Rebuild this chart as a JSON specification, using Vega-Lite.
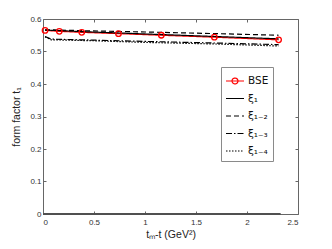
{
  "$schema": "https://vega.github.io/schema/vega-lite/v6.json",
  "width": 255,
  "height": 195,
  "autosize": {"type": "none"},
  "padding": {"left": 43, "top": 19, "right": 34, "bottom": 35},
  "background": "white",
  "config": {
    "font": "Liberation Sans",
    "view": {"stroke": null},
    "axis": {
      "grid": false,
      "domainColor": "#666666",
      "domainWidth": 1,
      "tickColor": "#666666",
      "tickSize": -3,
      "labelColor": "#333333",
      "labelFontSize": 8,
      "labelFont": "Liberation Sans",
      "titleFont": "Liberation Sans",
      "titleFontWeight": "normal",
      "titleColor": "#222222",
      "titleFontSize": 10.5
    },
    "legend": {
      "orient": "none",
      "legendX": 178,
      "legendY": 48,
      "strokeColor": "#8a8a8a",
      "fillColor": "white",
      "padding": 4,
      "symbolSize": 324,
      "symbolStrokeWidth": 1.2,
      "labelFontSize": 10.5,
      "labelFont": "DejaVu Sans",
      "labelColor": "#111111",
      "labelOffset": 3,
      "rowPadding": 1.5,
      "title": null
    }
  },
  "datasets": {
    "curves": [
      {"series": "BSE", "x": 0.02, "y": 0.565},
      {"series": "BSE", "x": 0.16, "y": 0.562},
      {"series": "BSE", "x": 0.38, "y": 0.559},
      {"series": "BSE", "x": 0.74, "y": 0.555},
      {"series": "BSE", "x": 1.16, "y": 0.550},
      {"series": "BSE", "x": 1.68, "y": 0.544},
      {"series": "BSE", "x": 2.31, "y": 0.536},
      {"series": "ξ₁", "x": 0.02, "y": 0.566},
      {"series": "ξ₁", "x": 0.4, "y": 0.561},
      {"series": "ξ₁", "x": 1.0, "y": 0.554},
      {"series": "ξ₁", "x": 1.7, "y": 0.546},
      {"series": "ξ₁", "x": 2.31, "y": 0.539},
      {"series": "ξ₁₋₂", "x": 0.02, "y": 0.567},
      {"series": "ξ₁₋₂", "x": 0.4, "y": 0.564},
      {"series": "ξ₁₋₂", "x": 1.0, "y": 0.560},
      {"series": "ξ₁₋₂", "x": 1.7, "y": 0.555},
      {"series": "ξ₁₋₂", "x": 2.31, "y": 0.550},
      {"series": "ξ₁₋₃", "x": 0.02, "y": 0.546},
      {"series": "ξ₁₋₃", "x": 0.08, "y": 0.538},
      {"series": "ξ₁₋₃", "x": 0.5, "y": 0.535},
      {"series": "ξ₁₋₃", "x": 1.0, "y": 0.531},
      {"series": "ξ₁₋₃", "x": 1.7, "y": 0.526},
      {"series": "ξ₁₋₃", "x": 2.31, "y": 0.521},
      {"series": "ξ₁₋₄", "x": 0.02, "y": 0.545},
      {"series": "ξ₁₋₄", "x": 0.08, "y": 0.536},
      {"series": "ξ₁₋₄", "x": 0.5, "y": 0.533},
      {"series": "ξ₁₋₄", "x": 1.0, "y": 0.528},
      {"series": "ξ₁₋₄", "x": 1.7, "y": 0.523},
      {"series": "ξ₁₋₄", "x": 2.31, "y": 0.517}
    ],
    "zero": [
      {"x": 0.0, "y": 0.0},
      {"x": 2.33, "y": 0.0}
    ]
  },
  "resolve": {"axis": {"x": "independent", "y": "independent"}},
  "layer": [
    {
      "data": {"name": "zero"},
      "mark": {"type": "line", "color": "#505050", "strokeWidth": 2.2},
      "encoding": {
        "x": {"field": "x", "type": "quantitative", "scale": {"domain": [0, 2.5], "nice": false},
              "axis": {"orient": "bottom", "values": [0, 0.5, 1, 1.5, 2, 2.5], "format": "~g", "title": "tₘ-t (GeV²)", "titlePadding": 3, "labelPadding": 7}},
        "y": {"field": "y", "type": "quantitative", "scale": {"domain": [0, 0.6], "nice": false},
              "axis": {"orient": "left", "values": [0, 0.1, 0.2, 0.3, 0.4, 0.5, 0.6], "format": "~g", "title": "form factor t₁", "titlePadding": 8, "labelPadding": 5}}
      }
    },
    {
      "data": {"name": "curves"},
      "mark": {"type": "line", "strokeWidth": 1.2},
      "encoding": {
        "x": {"field": "x", "type": "quantitative", "axis": null},
        "y": {"field": "y", "type": "quantitative", "axis": null},
        "color": {"field": "series", "type": "nominal",
                  "scale": {"domain": ["BSE", "ξ₁", "ξ₁₋₂", "ξ₁₋₃", "ξ₁₋₄"], "range": ["#ff0000", "#000000", "#000000", "#000000", "#000000"]},
                  "legend": {"encode": {"symbols": {"update": {"shape": {"signal": "datum.value === 'BSE' ? 'M-1,0H1M0.33,0A0.33,0.33 0 1,1 -0.33,0A0.33,0.33 0 1,1 0.33,0' : 'stroke'"}}}}}},
        "strokeDash": {"field": "series", "type": "nominal",
                       "scale": {"domain": ["BSE", "ξ₁", "ξ₁₋₂", "ξ₁₋₃", "ξ₁₋₄"], "range": [[1, 0], [1, 0], [5, 3], [6, 2, 1.5, 2], [1.5, 1.5]]}}
      }
    },
    {
      "data": {"name": "curves"},
      "transform": [{"filter": "datum.series === 'BSE'"}],
      "mark": {"type": "point", "shape": "circle", "filled": false, "color": "#ff0000", "size": 30, "strokeWidth": 1.3, "opacity": 1},
      "encoding": {
        "x": {"field": "x", "type": "quantitative", "axis": {"orient": "top", "values": [0, 0.5, 1, 1.5, 2, 2.5], "labels": false, "title": null}},
        "y": {"field": "y", "type": "quantitative", "axis": {"orient": "right", "values": [0, 0.1, 0.2, 0.3, 0.4, 0.5, 0.6], "labels": false, "title": null}}
      }
    }
  ]
}
